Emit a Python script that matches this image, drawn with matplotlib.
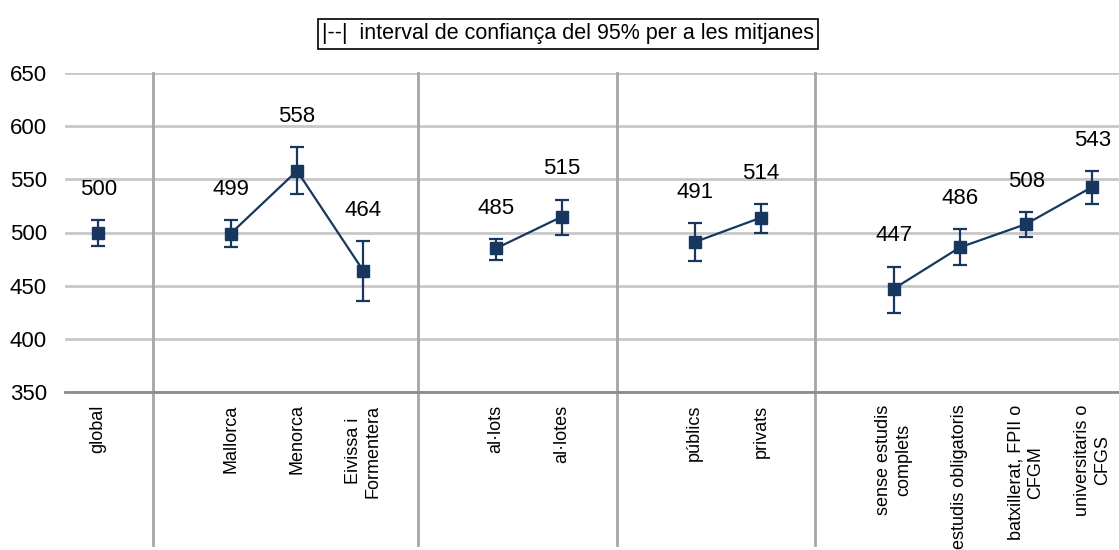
import numpy as np
import matplotlib
matplotlib.use("Agg")
import matplotlib.pyplot as plt

plt.rcParams['font.family'] = ['Liberation Sans', 'DejaVu Sans']

# categories (empty strings are the gaps between groups)
categories = ['global', '', 'Mallorca', 'Menorca', 'Eivissa i\nFormentera', '',
              'al·lots', 'al·lotes', '', 'públics', 'privats', '',
              'sense estudis\ncomplets', 'estudis obligatoris',
              'batxillerat, FPII o\nCFGM', 'universitaris o\nCFGS']
means = [500, np.nan, 499, 558, 464, np.nan, 485, 515, np.nan, 491, 514, np.nan,
         447, 486, 508, 543]
ci_low = [487, np.nan, 486, 536, 436, np.nan, 474, 498, np.nan, 473, 500, np.nan,
          424, 469, 496, 527]
ci_high = [512, np.nan, 512, 580, 492, np.nan, 494, 531, np.nan, 509, 527, np.nan,
           468, 503, 519, 558]
legend_text = '|--|  interval de confiança del 95% per a les mitjanes'

navy = '#17375e'
x = np.arange(len(categories))
means = np.array(means, dtype=float)
err = np.vstack([means - np.array(ci_low), np.array(ci_high) - means])

fig = plt.figure(figsize=(11.19, 5.5), dpi=100)
ax = fig.add_axes([65 / 1119, 1 - 392 / 550, 1 - 65 / 1119, (392 - 73) / 550])

ax.set_ylim(350, 650)
ax.set_xlim(-0.5, 15.4)
ax.set_yticks(range(350, 651, 50))
ax.yaxis.grid(True, color='#c8c8c8', lw=2)
ax.set_axisbelow(True)
for s in ['top', 'right', 'left']:
    ax.spines[s].set_visible(False)
ax.spines['bottom'].set_color('#8c8c8c')
ax.spines['bottom'].set_linewidth(2)

# group separators, in the empty slots
for i, c in enumerate(categories):
    if c == '':
        ax.axvline(i - 0.18, ymin=-0.48, ymax=1, color='#a6a6a6', lw=2, clip_on=False)

ax.plot(x, means, color=navy, lw=1.6, marker='s', ms=8, zorder=3)
ax.errorbar(x, means, yerr=err, fmt='none', ecolor=navy, elinewidth=1.6,
            capsize=5, capthick=1.6, zorder=3)

for xi, m, hi in zip(x, means, ci_high):
    if np.isnan(m):
        continue
    ax.annotate('%d' % m, (xi, hi), xytext=(0, 22), textcoords='offset points',
                ha='center', va='center', fontsize=16)

ax.set_xticks(x)
ax.set_xticklabels(categories, rotation=90, fontsize=13, va='top', ha='center',
                   multialignment='center')
ax.tick_params(axis='x', length=0, pad=9)
ax.tick_params(axis='y', length=0, labelsize=16, pad=13)

fig.text(568 / 1119, 1 - 34 / 550, legend_text, ha='center', va='center', fontsize=15.5,
         bbox=dict(boxstyle='square,pad=0.2', fc='white', ec='black', lw=1.2))

fig.savefig('out.png', dpi=100)
